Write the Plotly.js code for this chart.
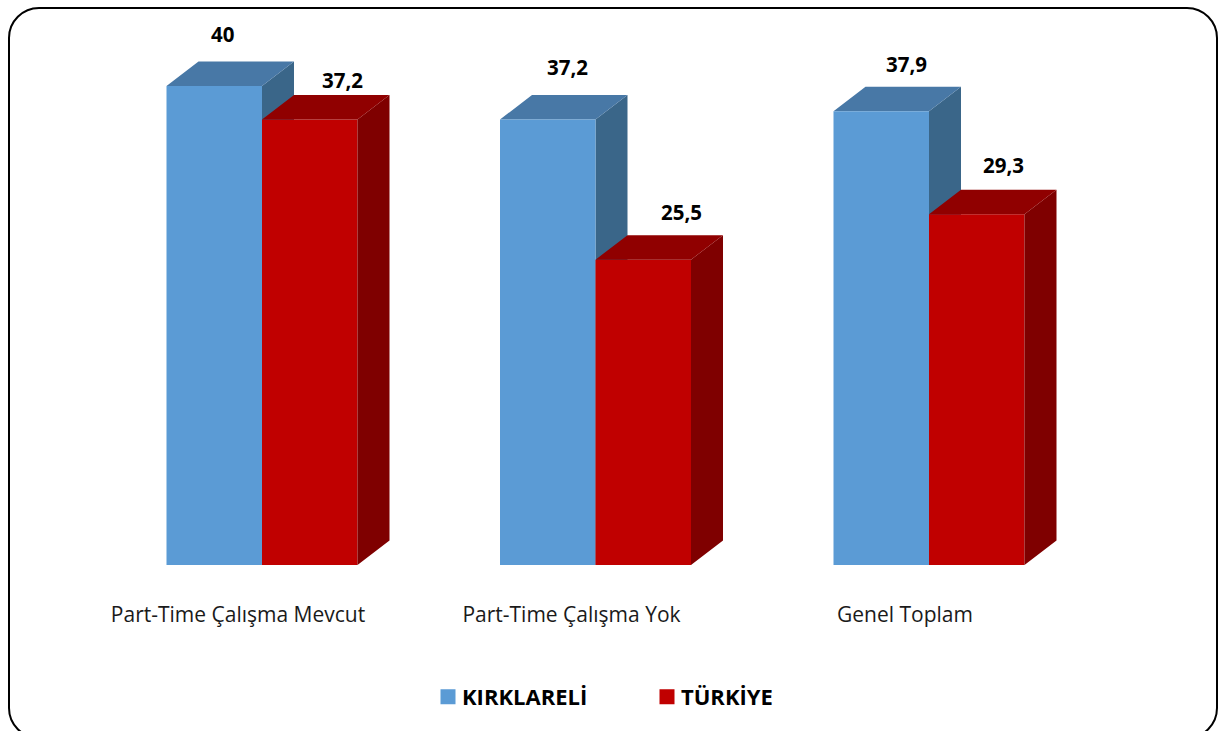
<!DOCTYPE html>
<html><head><meta charset="utf-8">
<script src="https://cdn.plot.ly/plotly-3.0.1.min.js"></script>
<style>html,body{margin:0;padding:0;background:#fff;overflow:hidden}</style>
</head><body><div id="chart" style="width:1219px;height:731px"></div>
<script>
const categories = ['Part-Time Çalışma Mevcut', 'Part-Time Çalışma Yok', 'Genel Toplam'];
const kirklareli = [40, 37.2, 37.9];
const turkiye = [37.2, 25.5, 29.3];
// label nudges in pixels, relative to each bar's top centre
const kShiftX = [8, 20, 25], kShiftY = [52, 53, 47];
const tShiftX = [33, 38, 27], tShiftY = [40, 48, 49];

const W = 1219, H = 731, baseline = 565;
const catPx = 333.5, firstCatPx = 262, pxPerUnit = 11.975;
const barW = 95.5 / catPx, depthX = 32 / catPx, depthY = 24.5 / pxPerUnit;
const xRange = [-firstCatPx / catPx, (W - firstCatPx) / catPx];
const yRange = [0, baseline / pxPerUnit];
const fmt = v => String(v).replace('.', ',');

function faces(values, side, name, topColor, sideColor, xa, ya) {
  const topX = [], topY = [], sideX = [], sideY = [];
  values.forEach((v, i) => {
    const l = side < 0 ? i - barW : i, r = l + barW;
    topX.push(l, l + depthX, r + depthX, r, l, null);
    topY.push(v, v + depthY, v + depthY, v, v, null);
    sideX.push(r, r + depthX, r + depthX, r, r, null);
    sideY.push(0, depthY, v + depthY, v, 0, null);
  });
  const base = {type: 'scatter', mode: 'lines', fill: 'toself', showlegend: false, hoverinfo: 'skip', xaxis: xa, yaxis: ya, line: {width: 0}};
  return [
    Object.assign({}, base, {name: name + ' yan', x: sideX, y: sideY, fillcolor: sideColor}),
    Object.assign({}, base, {name: name + ' üst', x: topX, y: topY, fillcolor: topColor})
  ];
}
const idx = categories.map((_, i) => i);
const traces = [
  ...faces(kirklareli, -1, 'KIRKLARELİ', '#4878A6', '#3A6689', 'x', 'y'),
  {type: 'bar', name: 'KIRKLARELİ', x: idx, y: kirklareli, xaxis: 'x2', yaxis: 'y2', hoverinfo: 'skip',
   marker: {color: '#5B9BD5', line: {width: 0}}},
  {type: 'bar', name: 'TÜRKİYE', x: idx, y: turkiye, xaxis: 'x2', yaxis: 'y2', hoverinfo: 'skip',
   marker: {color: '#C00000', line: {width: 0}}},
  ...faces(turkiye, 1, 'TÜRKİYE', '#900000', '#7F0000', 'x2', 'y2')
];
const annot = (v, i, s, sx, sy) => ({
  x: i + s * barW / 2, y: v, xref: 'x2', yref: 'y2', text: '<b>' + fmt(v) + '</b>', showarrow: false,
  xshift: sx, yshift: sy, font: {family: 'Open Sans', size: 20.5, color: '#000'}, xanchor: 'center', yanchor: 'middle'
});
const annotations = [
  ...kirklareli.map((v, i) => annot(v, i, -1, kShiftX[i], kShiftY[i])),
  ...turkiye.map((v, i) => annot(v, i, 1, tShiftX[i], tShiftY[i]))
];
const L = 9, T = 8, R = 1217, B = 738, rad = 30, k = 0.45 * rad;
const px = v => v / W, py = v => (baseline - v) / baseline;
const border = `M${px(L + rad)},${py(T)} L${px(R - rad)},${py(T)} ` +
  `C${px(R - k)},${py(T)} ${px(R)},${py(T + k)} ${px(R)},${py(T + rad)} L${px(R)},${py(B - rad)} ` +
  `C${px(R)},${py(B - k)} ${px(R - k)},${py(B)} ${px(R - rad)},${py(B)} L${px(L + rad)},${py(B)} ` +
  `C${px(L + k)},${py(B)} ${px(L)},${py(B - k)} ${px(L)},${py(B - rad)} L${px(L)},${py(T + rad)} ` +
  `C${px(L)},${py(T + k)} ${px(L + k)},${py(T)} ${px(L + rad)},${py(T)} Z`;
const hidden = {visible: false, fixedrange: true};
const layout = {
  width: W, height: H, paper_bgcolor: '#fff', plot_bgcolor: 'rgba(0,0,0,0)',
  margin: {l: 0, r: 0, t: 0, b: H - baseline, pad: 0},
  barmode: 'group', bargap: 1 - 2 * barW, bargroupgap: 0,
  xaxis: {range: xRange, tickmode: 'array', tickvals: idx.map(i => i - 24 / catPx), ticktext: categories,
    showgrid: false, zeroline: false, showline: false, ticks: '', ticklabelstandoff: 35,
    tickfont: {family: 'Open Sans', size: 21, color: '#1a1a1a'}, fixedrange: true},
  yaxis: Object.assign({range: yRange}, hidden),
  xaxis2: Object.assign({range: xRange, overlaying: 'x'}, hidden),
  yaxis2: Object.assign({range: yRange, overlaying: 'y'}, hidden),
  showlegend: true,
  legend: {orientation: 'h', x: 422 / W, xanchor: 'left', y: -0.1965, yanchor: 'top', traceorder: 'normal',
    entrywidth: 174, entrywidthmode: 'pixels', itemclick: false, itemdoubleclick: false,
    font: {family: 'Open Sans', size: 22, color: '#000', weight: 700}, bgcolor: 'rgba(0,0,0,0)'},
  shapes: [{type: 'path', xref: 'paper', yref: 'paper', path: border, line: {color: '#000', width: 2}, fillcolor: 'rgba(0,0,0,0)', layer: 'below'}],
  annotations
};
Plotly.newPlot('chart', traces, layout, {displayModeBar: false, staticPlot: true}).then(() => {
  // the reference has larger legend swatches, set closer to the text
  document.querySelectorAll('.legendsymbols').forEach(s => s.setAttribute('transform', 'translate(6,0)'));
  document.querySelectorAll('.legendsymbols path').forEach(p => {
    p.style.stroke = p.style.fill;
    p.style.strokeWidth = '3px';
    p.style.strokeOpacity = 1;
  });
});
</script></body></html>
